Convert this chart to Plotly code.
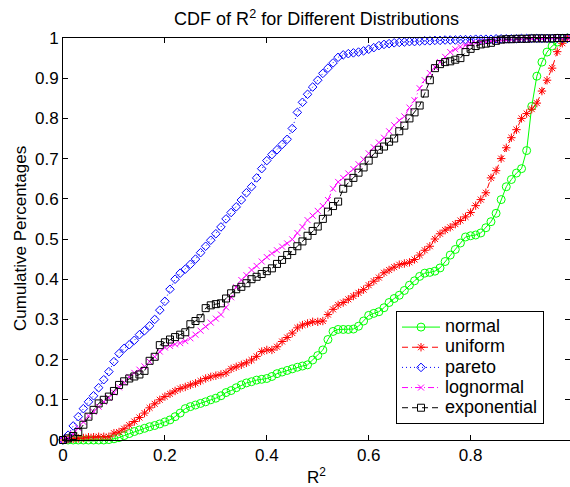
import numpy as np
import plotly.graph_objects as go

# Evaluation grid of R^2 values (0 to 1 in steps of 0.01)
r2_grid = np.round(np.linspace(0.0, 1.0, 101), 2)

# Empirical CDF of R^2 for each fitted distribution, sampled on r2_grid
cdf_normal = [
    0, 0, 0, 0, 0, 0, 0, 0, 0, 0.001,
    0.003, 0.006, 0.011, 0.016, 0.021, 0.025, 0.029, 0.033, 0.036, 0.040,
    0.045, 0.050, 0.058, 0.067, 0.078, 0.083, 0.087, 0.091, 0.095, 0.100,
    0.104, 0.110, 0.118, 0.123, 0.130, 0.137, 0.142, 0.145, 0.149, 0.151,
    0.153, 0.158, 0.165, 0.169, 0.173, 0.177, 0.181, 0.184, 0.187, 0.199,
    0.210, 0.224, 0.250, 0.270, 0.275, 0.275, 0.275, 0.276, 0.283, 0.296,
    0.310, 0.315, 0.319, 0.329, 0.342, 0.352, 0.360, 0.372, 0.385, 0.396,
    0.407, 0.415, 0.417, 0.420, 0.428, 0.444, 0.460, 0.474, 0.490, 0.505,
    0.508, 0.510, 0.515, 0.528, 0.543, 0.564, 0.598, 0.630, 0.648, 0.664,
    0.675, 0.720, 0.830, 0.905, 0.940, 0.965, 0.980, 0.990, 0.998, 1.0,
    1.0,
]

cdf_uniform = [
    0, 0.002, 0.003, 0.004, 0.005, 0.007, 0.007, 0.008, 0.008, 0.008,
    0.017, 0.020, 0.028, 0.037, 0.046, 0.056, 0.067, 0.080, 0.090, 0.100,
    0.108, 0.115, 0.122, 0.128, 0.132, 0.137, 0.141, 0.147, 0.153, 0.157,
    0.160, 0.163, 0.167, 0.177, 0.182, 0.187, 0.192, 0.199, 0.208, 0.220,
    0.224, 0.224, 0.232, 0.245, 0.255, 0.266, 0.279, 0.286, 0.290, 0.294,
    0.294, 0.296, 0.312, 0.325, 0.336, 0.342, 0.350, 0.358, 0.366, 0.374,
    0.385, 0.395, 0.404, 0.416, 0.423, 0.430, 0.436, 0.439, 0.442, 0.449,
    0.460, 0.472, 0.482, 0.500, 0.513, 0.522, 0.529, 0.537, 0.546, 0.555,
    0.566, 0.583, 0.598, 0.615, 0.652, 0.670, 0.700, 0.727, 0.752, 0.772,
    0.800, 0.812, 0.823, 0.838, 0.868, 0.895, 0.925, 0.966, 0.987, 1.0,
    1.0,
]

cdf_pareto = [
    0, 0.012, 0.035, 0.058, 0.078, 0.095, 0.110, 0.130, 0.150, 0.170,
    0.195, 0.215, 0.228, 0.237, 0.248, 0.262, 0.272, 0.284, 0.300, 0.323,
    0.345, 0.375, 0.400, 0.415, 0.425, 0.437, 0.450, 0.466, 0.482, 0.497,
    0.513, 0.530, 0.550, 0.566, 0.580, 0.597, 0.615, 0.630, 0.652, 0.675,
    0.695, 0.710, 0.722, 0.735, 0.748, 0.775, 0.815, 0.840, 0.860, 0.878,
    0.895, 0.912, 0.925, 0.938, 0.952, 0.958, 0.961, 0.963, 0.965, 0.968,
    0.972, 0.976, 0.981, 0.984, 0.986, 0.988, 0.989, 0.990, 0.991, 0.991,
    0.992, 0.993, 0.993, 0.994, 0.994, 0.995, 0.995, 0.995, 0.996, 0.996,
    0.996, 0.997, 0.997, 0.997, 0.997, 0.998, 0.998, 0.998, 0.998, 0.998,
    0.999, 0.999, 0.999, 0.999, 0.999, 0.999, 0.999, 0.999, 0.999, 0.999,
    1.0,
]

cdf_lognormal = [
    0, 0.005, 0.015, 0.030, 0.045, 0.060, 0.070, 0.083, 0.095, 0.105,
    0.118, 0.131, 0.143, 0.157, 0.167, 0.175, 0.183, 0.195, 0.207, 0.220,
    0.230, 0.234, 0.238, 0.241, 0.246, 0.253, 0.262, 0.272, 0.282, 0.292,
    0.302, 0.312, 0.330, 0.355, 0.380, 0.398, 0.410, 0.423, 0.433, 0.444,
    0.455, 0.464, 0.472, 0.481, 0.489, 0.499, 0.515, 0.530, 0.547, 0.558,
    0.570, 0.582, 0.597, 0.625, 0.642, 0.652, 0.663, 0.674, 0.686, 0.698,
    0.713, 0.728, 0.740, 0.752, 0.768, 0.783, 0.795, 0.805, 0.827, 0.845,
    0.875, 0.895, 0.913, 0.928, 0.940, 0.953, 0.965, 0.972, 0.978, 0.982,
    0.985, 0.988, 0.990, 0.991, 0.992, 0.993, 0.994, 0.995, 0.996, 0.996,
    0.997, 0.998, 0.998, 0.998, 0.998, 0.999, 0.999, 0.999, 0.999, 0.999,
    1.0,
]

cdf_exponential = [
    0, 0.004, 0.010, 0.020, 0.038, 0.058, 0.075, 0.091, 0.100, 0.108,
    0.122, 0.137, 0.146, 0.153, 0.158, 0.163, 0.172, 0.197, 0.207, 0.236,
    0.243, 0.250, 0.256, 0.262, 0.268, 0.288, 0.296, 0.303, 0.328, 0.335,
    0.338, 0.340, 0.352, 0.365, 0.375, 0.381, 0.390, 0.400, 0.406, 0.413,
    0.420, 0.427, 0.438, 0.448, 0.460, 0.470, 0.482, 0.494, 0.508, 0.520,
    0.531, 0.550, 0.568, 0.582, 0.593, 0.625, 0.640, 0.652, 0.665, 0.678,
    0.695, 0.712, 0.722, 0.730, 0.742, 0.750, 0.768, 0.782, 0.800, 0.815,
    0.832, 0.862, 0.895, 0.925, 0.935, 0.940, 0.942, 0.946, 0.950, 0.965,
    0.973, 0.980, 0.984, 0.986, 0.988, 0.993, 0.996, 0.997, 0.997, 0.998,
    0.998, 0.998, 0.999, 0.999, 0.999, 0.999, 0.999, 1.0, 1.0, 1.0,
    1.0,
]

series_names = ["normal", "uniform", "pareto", "lognormal", "exponential"]
series_values = [cdf_normal, cdf_uniform, cdf_pareto, cdf_lognormal, cdf_exponential]

# MATLAB-like line specs: colour, dash, marker symbol, marker size
styles = {
    "normal": ("#00ff00", "solid", "circle-open", 8),
    "uniform": ("#ff0000", "6px,4px", "asterisk-open", 7),
    "pareto": ("#0000ff", "1px,3px", "diamond-open", 6.6),
    "lognormal": ("#ff00ff", "6px,3px,1px,3px", "x-thin-open", 6),
    "exponential": ("#000000", "6px,4px", "square-open", 7),
}

FONT = "Liberation Sans, Arial, Helvetica, sans-serif"
LEGEND_TEXT_PX = 18

fig = go.Figure()
for name, vals in zip(series_names, series_values):
    color, dash, symbol, size = styles[name]
    fig.add_trace(go.Scatter(
        x=r2_grid, y=vals, mode="lines+markers",
        # legend row pitch follows legend.font.size; the label itself is larger
        name=f'<span style="font-size:{LEGEND_TEXT_PX}px">{name}</span>',
        line=dict(color=color, width=1, dash=dash),
        marker=dict(symbol=symbol, size=size, color=color,
                    line=dict(color=color, width=1)),
        cliponaxis=False,
    ))

W, H = 570, 487
L, R, T, B = 63, 0, 38, 47
plot_w = W - L - R
plot_h = H - T - B

fig.update_layout(
    width=W, height=H,
    margin=dict(l=L, r=R, t=T, b=B, pad=0),
    paper_bgcolor="white", plot_bgcolor="white",
    font=dict(family=FONT, size=17, color="black"),
    title=dict(text="CDF of R<sup>2</sup> for Different Distributions",
               x=0.5, xref="paper", xanchor="center",
               y=1 - 19 / H, yref="container", yanchor="middle",
               font=dict(family=FONT, size=18, color="black")),
    showlegend=True,
    legend=dict(x=(396 - L) / plot_w, y=(440 - 311) / plot_h,
                xanchor="left", yanchor="top",
                bgcolor="white", bordercolor="black", borderwidth=1,
                font=dict(family=FONT, size=13.2, color="black"),
                itemwidth=38, tracegroupgap=0),
    annotations=[
        dict(text="R<sup>2</sup>", x=0.5, xref="paper",
             y=(440 - 476) / plot_h, yref="paper",
             xanchor="center", yanchor="middle", showarrow=False,
             font=dict(family=FONT, size=17, color="black")),
        dict(text="Cumulative Percentages", x=(20 - L) / plot_w, xref="paper",
             y=0.5, yref="paper", textangle=-90,
             xanchor="center", yanchor="middle", showarrow=False,
             font=dict(family=FONT, size=17, color="black")),
    ],
)

fig.update_xaxes(
    range=[0, plot_w / 509.5], tickvals=[0, 0.2, 0.4, 0.6, 0.8, 1.0],
    ticktext=["0", "0.2", "0.4", "0.6", "0.8", "1"],
    ticks="inside", ticklen=5, tickwidth=1, tickcolor="black",
    showline=True, linecolor="black", linewidth=1, mirror="ticks",
    showgrid=False, zeroline=False, automargin=False,
    tickfont=dict(family=FONT, size=17, color="black"),
)
fig.update_yaxes(
    range=[0, 1], dtick=0.1, tick0=0,
    ticks="inside", ticklen=5, tickwidth=1, tickcolor="black",
    showline=True, linecolor="black", linewidth=1, mirror="ticks",
    showgrid=False, zeroline=False, automargin=False,
    tickfont=dict(family=FONT, size=17, color="black"),
)

fig.write_html("out.html")
